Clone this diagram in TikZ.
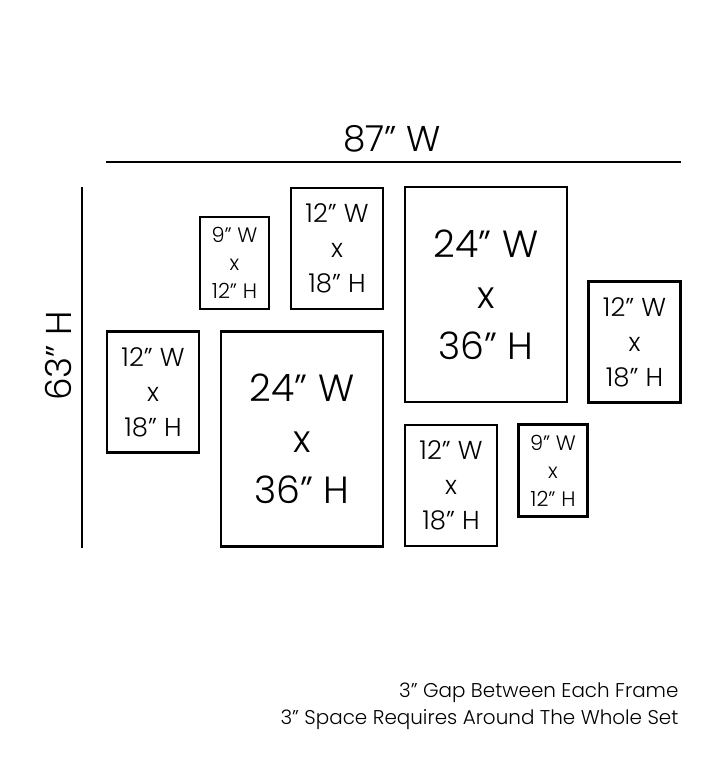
\documentclass[tikz,border=0pt]{standalone}
\usepackage{fontspec}
\setmainfont{Poppins}[UprightFont={* Light}]
\usepackage{tikz}

\tikzset{
  quadro/.style={draw, line width=2.6bp, rectangle, inner sep=0pt, align=center},
  grande/.style={quadro, minimum width=162bp, minimum height=215bp, font=\fontsize{38}{51}\selectfont},
  medio/.style={quadro, minimum width=92bp, minimum height=121bp, font=\fontsize{26}{35}\selectfont},
  pequeno/.style={quadro, minimum width=69bp, minimum height=92bp, font=\fontsize{21}{28}\selectfont},
  cota/.style={line width=2.6bp}
}

\begin{document}
\begin{tikzpicture}[x=1bp, y=-1bp]
		\useasboundingbox (0,0) rectangle (720,778);

		% as cotas gerais
			\coordinate (wa) at (106,162);
			\coordinate (wb) at (681,162);
			\coordinate (ha) at (82,187);
			\coordinate (hb) at (82,548);
			\draw[cota] (wa) -- (wb);
			\draw[cota] (ha) -- (hb);
			\node[font=\fontsize{36}{42}\selectfont] (largura) at (392,139) {87" W};
			\node[font=\fontsize{36}{42}\selectfont, rotate=90] (altura) at (58,356) {63" H};

		% os quadros
			\node[pequeno] (p1) at (234.5,263) {9" W\\x\\12" H};
			\node[medio] (m1) at (337,248.5) {12" W\\x\\18" H};
			\node[grande] (g1) at (486,294.5) {24" W\\x\\36" H};
			\node[medio] (m2) at (634.5,342) {12" W\\x\\18" H};
			\node[medio] (m3) at (153,392) {12" W\\x\\18" H};
			\node[grande] (g2) at (302,439) {24" W\\x\\36" H};
			\node[medio] (m4) at (451,485.5) {12" W\\x\\18" H};
			\node[pequeno] (p2) at (553,470.5) {9" W\\x\\12" H};

		% a nota
			\node[anchor=east, align=right, font=\fontsize{20}{27}\selectfont] (nota) at (682,706)
				{3" Gap Between Each Frame\\3" Space Requires Around The Whole Set};
	\end{tikzpicture}
\end{document}
